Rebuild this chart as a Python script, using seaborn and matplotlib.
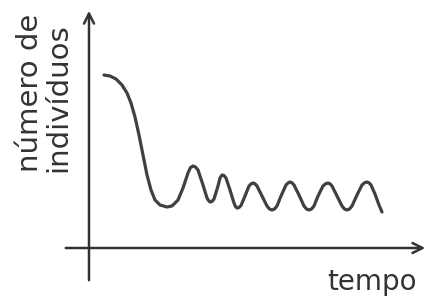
import numpy as np
import pandas as pd
import matplotlib
matplotlib.use("Agg")
import matplotlib.pyplot as plt
import seaborn as sns

# valores lidos do esquema (tempo, número de indivíduos), origem no cruzamento dos eixos
tempo = [1.5, 2.1, 2.7, 3.3, 3.8, 4.2, 4.6, 5.0, 5.4, 5.8, 6.2, 6.6, 7.1, 7.8,
         8.3, 8.9, 9.4, 9.9,
         10.15, 10.4, 10.65, 10.9, 11.4, 11.8,
         11.95, 12.1, 12.3, 12.5, 12.9,
         13.1, 13.3, 13.5, 13.7, 14.1, 14.5,
         14.65, 14.8, 15.0, 15.2, 15.6, 16.0,
         16.2, 16.4, 16.6, 16.8, 17.3, 17.8,
         18.05, 18.3, 18.55, 18.8, 19.2, 19.7,
         19.9, 20.1, 20.3, 20.5, 21.0, 21.5,
         21.75, 22.0, 22.25, 22.5, 22.9, 23.4,
         23.65, 23.9, 24.1, 24.3, 24.8, 25.3,
         25.55, 25.8, 26.05, 26.3, 26.8, 27.3,
         27.55, 27.8, 28.0, 28.2, 28.6, 29.0, 29.3]
individuos = [17.3, 17.2, 16.9, 16.3, 15.5, 14.5, 13.1, 11.3, 9.3, 7.3, 5.8, 4.8, 4.3, 4.1,
              4.2, 4.8, 6.0, 7.5,
              8.05, 8.2, 8.1, 7.8, 6.3, 5.0,
              4.75, 4.6, 4.65, 4.9, 6.2,
              7.0, 7.3, 7.25, 7.0, 5.8, 4.5,
              4.15, 4.0, 4.05, 4.25, 5.2, 6.2,
              6.4, 6.5, 6.42, 6.2, 5.2, 4.2,
              3.9, 3.8, 3.9, 4.2, 5.2, 6.3,
              6.5, 6.6, 6.52, 6.3, 5.3, 4.2,
              3.9, 3.8, 3.9, 4.2, 5.2, 6.2,
              6.42, 6.5, 6.42, 6.2, 5.2, 4.2,
              3.9, 3.8, 3.9, 4.2, 5.3, 6.3,
              6.52, 6.6, 6.52, 6.3, 5.4, 4.3, 3.6]

df = pd.DataFrame({"tempo": tempo, "individuos": individuos})

sns.set_style("white")
plt.rcParams["font.family"] = ["DejaVu Sans"]

fig = plt.figure(figsize=(4.29, 3.02), dpi=100)
ax = fig.add_axes([0, 0, 1, 1])
sns.lineplot(data=df, x="tempo", y="individuos", color="#404040", lw=2.3,
             solid_joinstyle="round", solid_capstyle="round", ax=ax)

ax.set_xlim(-8.9, 34.0)
ax.set_ylim(-5.4, 24.8)
ax.axis("off")

cor = "#333333"
# eixos com setas
ax.annotate("", xy=(33.9, 0), xytext=(-2.6, 0),
            arrowprops=dict(arrowstyle="->", lw=1.8, color=cor, mutation_scale=18))
ax.annotate("", xy=(0, 24.0), xytext=(0, -3.5),
            arrowprops=dict(arrowstyle="->", lw=1.8, color=cor, mutation_scale=18))

ax.text(-4.5, 7.6, "número de\nindivíduos", rotation=90, ha="center", va="bottom",
        multialignment="left", fontsize=21, color=cor, linespacing=1.0)
ax.text(23.8, -4.2, "tempo", ha="left", va="baseline", fontsize=20, color=cor)

fig.savefig("out.png", dpi=100)
